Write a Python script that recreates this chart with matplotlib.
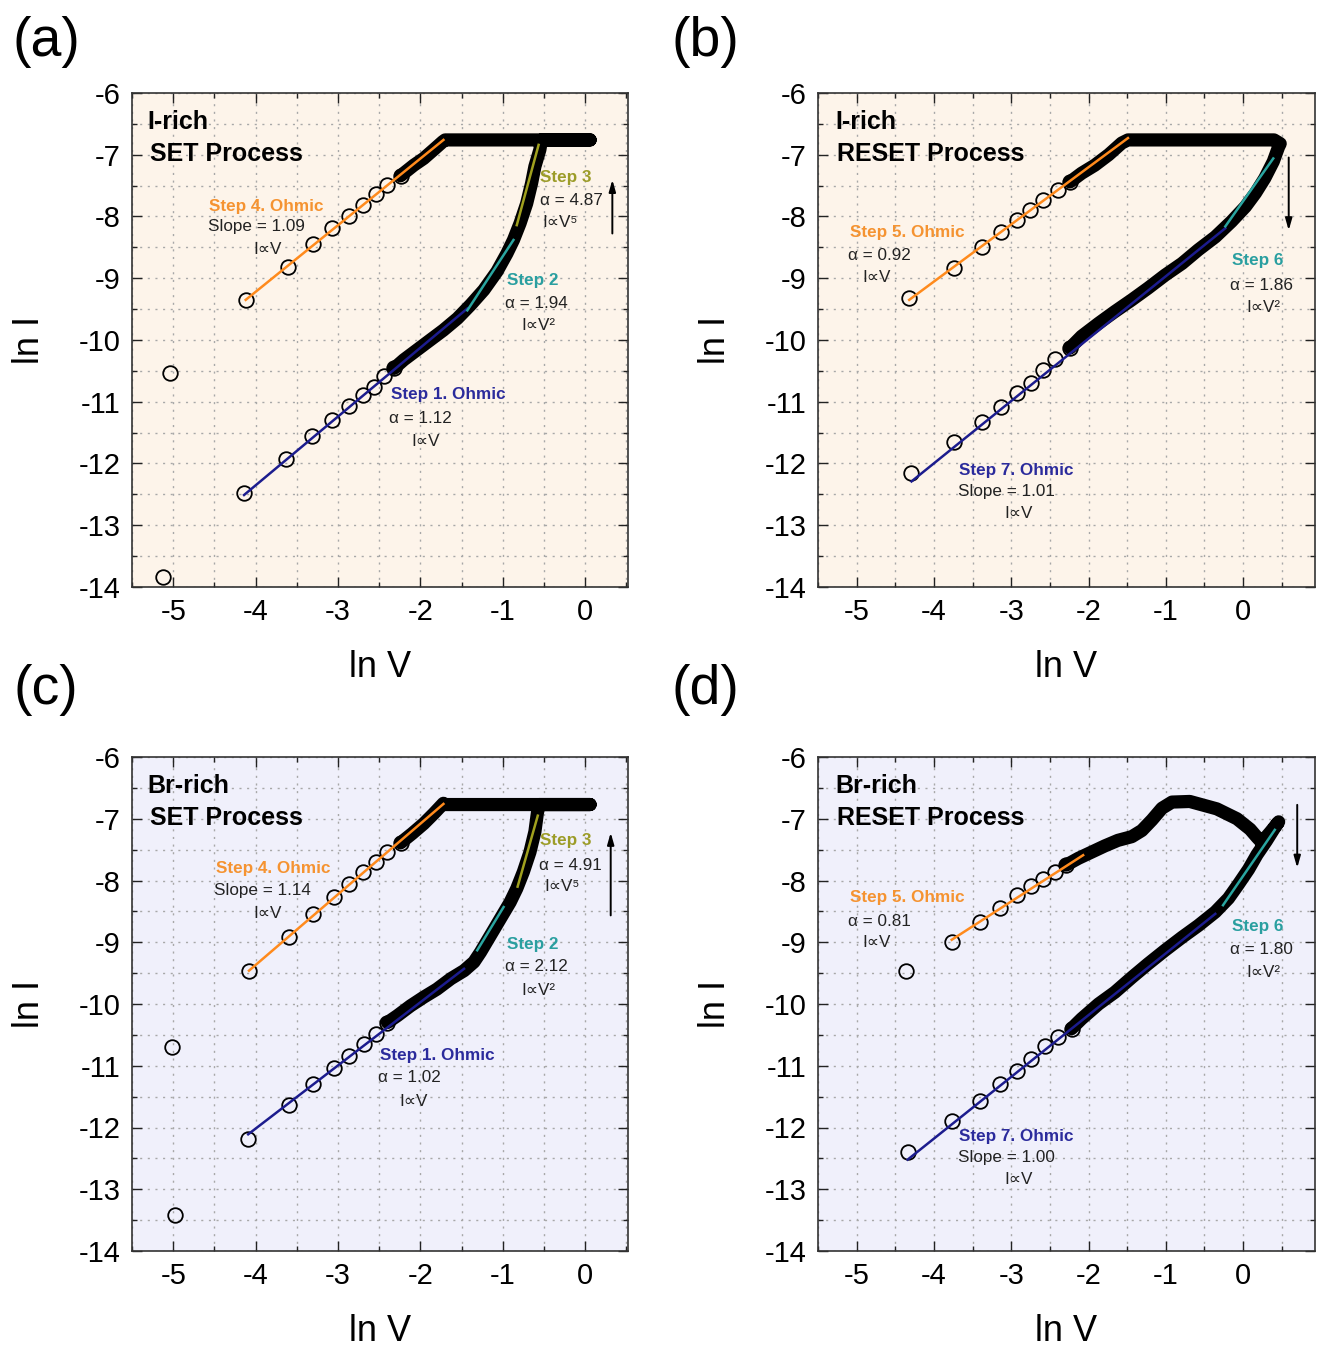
import matplotlib
matplotlib.use("Agg")
import matplotlib.pyplot as plt
from matplotlib.ticker import MultipleLocator

plt.rcParams['font.family'] = ['Liberation Sans', 'DejaVu Sans']
plt.rcParams['axes.unicode_minus'] = False

# ---------------- data (ln V, ln I) ----------------
# Panel (a): I-rich SET
a_up_x = [-4.12, -3.61, -3.30, -3.07, -2.87, -2.70, -2.54, -2.40, -2.24]
a_up_y = [-9.35, -8.81, -8.45, -8.18, -7.99, -7.81, -7.64, -7.49, -7.34]
a_lo_x = [-4.14, -3.63, -3.31, -3.07, -2.87, -2.70, -2.56, -2.44, -2.32]
a_lo_y = [-12.48, -11.92, -11.56, -11.30, -11.07, -10.89, -10.76, -10.59, -10.46]
a_out_x = [-5.04, -5.12]
a_out_y = [-10.54, -13.83]
a_band_x = [-2.32, -2.20, -2.04, -1.88, -1.72, -1.55, -1.39, -1.23, -1.07, -0.95, -0.87,
            -0.79, -0.71, -0.65, -0.61, -0.55, -0.53, 0.06, -1.70, -1.73, -1.84, -1.96, -2.08, -2.24]
a_band_y = [-10.46, -10.32, -10.16, -10.00, -9.84, -9.65, -9.43, -9.19, -8.89, -8.60, -8.38,
            -8.11, -7.79, -7.46, -7.19, -6.92, -6.76, -6.76, -6.76, -6.79, -6.92, -7.06, -7.17, -7.34]
a_fit_orange = ([-4.12, -1.72], [-9.35, -6.76])
a_fit_blue = ([-4.14, -1.43], [-12.51, -9.49])
a_fit_teal = ([-1.43, -0.87], [-9.52, -8.38])
a_fit_olive = ([-0.83, -0.565], [-8.14, -6.84])
a_arrow = (0.33, -8.32, -7.36)

# Panel (b): I-rich RESET
b_up_x = [-4.32, -3.74, -3.38, -3.13, -2.93, -2.76, -2.59, -2.39, -2.24]
b_up_y = [-9.32, -8.84, -8.49, -8.25, -8.06, -7.89, -7.73, -7.57, -7.44]
b_lo_x = [-2.24, -2.44, -2.59, -2.74, -2.93, -3.13, -3.38, -3.74, -4.30]
b_lo_y = [-10.13, -10.30, -10.49, -10.70, -10.86, -11.08, -11.32, -11.65, -12.16]
b_band_x = [-2.24, -2.09, -1.92, -1.74, -1.57, -1.49, 0.40, 0.48, 0.46, 0.39, 0.28, 0.16, 0.03,
            -0.15, -0.36, -0.58, -0.79, -1.01, -1.23, -1.44, -1.66, -1.87, -2.09, -2.24]
b_band_y = [-7.44, -7.30, -7.17, -7.00, -6.81, -6.76, -6.76, -6.82, -6.87, -7.11, -7.38, -7.62, -7.84,
            -8.08, -8.33, -8.54, -8.76, -8.95, -9.16, -9.35, -9.54, -9.73, -9.94, -10.13]
b_fit_orange = ([-4.32, -1.49], [-9.35, -6.73])
b_fit_blue = ([-4.29, -0.23], [-12.29, -8.19])
b_fit_teal = ([-0.23, 0.39], [-8.16, -7.06])
b_arrow = (0.59, -7.00, -8.27)

# Panel (c): Br-rich SET
c_up_x = [-4.08, -3.60, -3.30, -3.05, -2.87, -2.70, -2.54, -2.40, -2.24]
c_up_y = [-9.47, -8.92, -8.54, -8.27, -8.05, -7.86, -7.70, -7.54, -7.39]
c_lo_x = [-4.09, -3.60, -3.30, -3.05, -2.87, -2.68, -2.54, -2.40]
c_lo_y = [-12.19, -11.64, -11.30, -11.03, -10.84, -10.65, -10.49, -10.30]
c_out_x = [-5.02, -4.98]
c_out_y = [-10.70, -13.42]
c_band_x = [-2.40, -2.28, -2.12, -1.96, -1.80, -1.63, -1.47, -1.35, -1.27, -1.15, -1.03, -0.91,
            -0.83, -0.75, -0.67, -0.61, -0.58, -0.56, 0.06, -1.70, -1.72, -1.84, -1.96, -2.10, -2.24]
c_band_y = [-10.30, -10.19, -10.03, -9.89, -9.76, -9.59, -9.46, -9.32, -9.16, -8.89, -8.62, -8.35,
            -8.13, -7.86, -7.54, -7.21, -6.91, -6.77, -6.77, -6.77, -6.75, -6.92, -7.08, -7.24, -7.39]
c_fit_orange = ([-4.08, -1.72], [-9.46, -6.76])
c_fit_blue = ([-4.09, -1.47], [-12.11, -9.43])
c_fit_teal = ([-1.31, -0.99], [-9.13, -8.43])
c_fit_olive = ([-0.82, -0.575], [-8.10, -6.95])
c_arrow = (0.31, -8.61, -7.18)

# Panel (d): Br-rich RESET
d_up_x = [-3.77, -3.40, -3.14, -2.93, -2.74, -2.59, -2.43, -2.29]
d_up_y = [-8.99, -8.67, -8.45, -8.24, -8.09, -7.97, -7.86, -7.75]
d_lo_x = [-2.22, -2.39, -2.56, -2.74, -2.93, -3.14, -3.40, -3.77, -4.34]
d_lo_y = [-10.40, -10.54, -10.68, -10.89, -11.08, -11.30, -11.57, -11.89, -12.40]
d_out_x = [-4.36]
d_out_y = [-9.47]
d_band_x = [-2.29, -2.13, -1.96, -1.79, -1.62, -1.44, -1.31, -1.18, -1.05, -0.92, -0.69, -0.34,
            -0.08, 0.09, 0.18, 0.24, 0.35, 0.46, 0.40, 0.30, 0.18, 0.07, -0.06, -0.19, -0.36,
            -0.58, -0.79, -1.01, -1.23, -1.44, -1.66, -1.87, -2.09, -2.22]
d_band_y = [-7.75, -7.64, -7.54, -7.44, -7.35, -7.29, -7.19, -7.02, -6.83, -6.73, -6.72, -6.84,
            -7.00, -7.17, -7.30, -7.38, -7.22, -7.05, -7.16, -7.36, -7.58, -7.82, -8.06, -8.29, -8.51,
            -8.73, -8.92, -9.13, -9.35, -9.57, -9.81, -10.00, -10.24, -10.40]
d_fit_orange = ([-3.77, -2.07], [-8.96, -7.59])
d_fit_blue = ([-4.34, -0.36], [-12.52, -8.54])
d_fit_teal = ([-0.26, 0.41], [-8.40, -7.18])
d_arrow = (0.70, -6.73, -7.84)

x_ticks = [-5, -4, -3, -2, -1, 0]
y_ticks = [-14, -13, -12, -11, -10, -9, -8, -7, -6]

# ---------------- style ----------------
ORANGE = '#ff8a1c'
NAVY = '#1c1c8e'
TEAL = '#2aa5a0'
OLIVE = '#a0a01e'
T_ORANGE = '#f59331'
T_NAVY = '#2b2b9c'
T_TEAL = '#2a9fa0'
T_OLIVE = '#9c9c28'
T_DARK = '#222222'
BG_I = '#fdf4ea'
BG_BR = '#f0f0fb'

fig = plt.figure(figsize=(13.19, 13.5), dpi=100)

W, H = 1319.0, 1350.0
def axes_px(l, r, t, b):
    return fig.add_axes([l / W, 1 - b / H, (r - l) / W, (b - t) / H])

ax_a = axes_px(132, 628, 93, 587)
ax_b = axes_px(818, 1315, 93, 587)
ax_c = axes_px(132, 628, 757, 1251)
ax_d = axes_px(818, 1315, 757, 1251)

def setup(ax, bg, xmax, lbx):
    ax.set_facecolor(bg)
    ax.set_xlim(-5.5, xmax)
    ax.set_ylim(-14, -6)
    ax.set_xticks(x_ticks)
    ax.set_yticks(y_ticks)
    ax.xaxis.set_minor_locator(MultipleLocator(0.5))
    ax.yaxis.set_minor_locator(MultipleLocator(0.5))
    ax.tick_params(which='both', direction='in', top=True, right=True, width=1.0, color='#222222')
    ax.tick_params(which='major', length=7, labelsize=21, pad=8)
    ax.tick_params(which='minor', length=3.5)
    ax.grid(True, which='both', color='#a8a8a8', linestyle=(0, (1.5, 4)), linewidth=1.0)
    ax.set_axisbelow(True)
    for s in ax.spines.values():
        s.set_linewidth(1.2)
        s.set_color('#333333')
    ax.set_xlabel('ln V', fontsize=26, va='top')
    ax.set_ylabel('ln I', fontsize=26, va='bottom')
    ax.xaxis.set_label_coords(0.5, -0.128)
    ax.yaxis.set_label_coords(lbx, 0.5)

def band(ax, x, y):
    ax.plot(x, y, color='black', lw=9.5, solid_capstyle='round', solid_joinstyle='round', zorder=2)

def markers(ax, x, y):
    ax.plot(x, y, linestyle='none', marker='o', markersize=10.5, markerfacecolor='none',
            markeredgecolor='black', markeredgewidth=1.3, zorder=3)

def fit(ax, xy, color):
    ax.plot(xy[0], xy[1], color=color, lw=1.8, zorder=4)

def arrow(ax, a):
    x, y0, y1 = a
    ax.annotate('', xy=(x, y1), xytext=(x, y0),
                arrowprops=dict(arrowstyle='-|>,head_length=0.7,head_width=0.2', color='black', lw=1.4),
                zorder=5)

def txt(ax, x, y, s, color=T_DARK, bold=False, ha='left'):
    ax.text(x, y, s, color=color, fontsize=12.3, fontweight='bold' if bold else 'normal',
            ha=ha, va='center', zorder=6)

def title(ax, l1, l2, x0):
    ax.text(x0, 0.941, l1, transform=ax.transAxes, fontsize=18, fontweight='bold', va='center', ha='left')
    ax.text(x0 + 0.004, 0.877, l2, transform=ax.transAxes, fontsize=18, fontweight='bold', va='center', ha='left')

# ---- (a)
ax = ax_a
setup(ax, BG_I, 0.52, -0.172)
band(ax, a_band_x, a_band_y)
markers(ax, a_up_x, a_up_y)
markers(ax, a_lo_x, a_lo_y)
markers(ax, a_out_x, a_out_y)
fit(ax, a_fit_orange, ORANGE)
fit(ax, a_fit_blue, NAVY)
fit(ax, a_fit_teal, TEAL)
fit(ax, a_fit_olive, OLIVE)
arrow(ax, a_arrow)
title(ax, 'I-rich', 'SET Process', 0.032)
txt(ax, -4.56, -7.83, 'Step 4. Ohmic', T_ORANGE, True)
txt(ax, -4.58, -8.17, 'Slope = 1.09')
txt(ax, -3.85, -8.53, 'I\u221dV', ha='center')
txt(ax, -0.545, -7.37, 'Step 3', T_OLIVE, True)
txt(ax, -0.55, -7.74, '\u03b1 = 4.87')
txt(ax, -0.30, -8.10, 'I\u221dV\u2075', ha='center')
txt(ax, -0.95, -9.04, 'Step 2', T_TEAL, True)
txt(ax, -0.97, -9.41, '\u03b1 = 1.94')
txt(ax, -0.565, -9.76, 'I\u221dV\u00b2', ha='center')
txt(ax, -2.36, -10.89, 'Step 1. Ohmic', T_NAVY, True)
txt(ax, -2.38, -11.27, '\u03b1 = 1.12')
txt(ax, -1.94, -11.65, 'I\u221dV', ha='center')

# ---- (b)
ax = ax_b
setup(ax, BG_I, 0.93, -0.172)
band(ax, b_band_x, b_band_y)
markers(ax, b_up_x, b_up_y)
markers(ax, b_lo_x, b_lo_y)
fit(ax, b_fit_orange, ORANGE)
fit(ax, b_fit_blue, NAVY)
fit(ax, b_fit_teal, TEAL)
arrow(ax, b_arrow)
title(ax, 'I-rich', 'RESET Process', 0.034)
txt(ax, -5.09, -8.26, 'Step 5. Ohmic', T_ORANGE, True)
txt(ax, -5.11, -8.63, '\u03b1 = 0.92')
txt(ax, -4.74, -8.98, 'I\u221dV', ha='center')
txt(ax, -0.15, -8.72, 'Step 6', T_TEAL, True)
txt(ax, -0.17, -9.11, '\u03b1 = 1.86')
txt(ax, 0.26, -9.47, 'I\u221dV\u00b2', ha='center')
txt(ax, -3.67, -12.11, 'Step 7. Ohmic', T_NAVY, True)
txt(ax, -3.69, -12.46, 'Slope = 1.01')
txt(ax, -2.91, -12.81, 'I\u221dV', ha='center')

# ---- (c)
ax = ax_c
setup(ax, BG_BR, 0.52, -0.172)
band(ax, c_band_x, c_band_y)
markers(ax, c_up_x, c_up_y)
markers(ax, c_lo_x, c_lo_y)
markers(ax, c_out_x, c_out_y)
fit(ax, c_fit_orange, ORANGE)
fit(ax, c_fit_blue, NAVY)
fit(ax, c_fit_teal, TEAL)
fit(ax, c_fit_olive, OLIVE)
arrow(ax, c_arrow)
title(ax, 'Br-rich', 'SET Process', 0.032)
txt(ax, -4.48, -7.81, 'Step 4. Ohmic', T_ORANGE, True)
txt(ax, -4.50, -8.16, 'Slope = 1.14')
txt(ax, -3.85, -8.54, 'I\u221dV', ha='center')
txt(ax, -0.545, -7.36, 'Step 3', T_OLIVE, True)
txt(ax, -0.555, -7.75, '\u03b1 = 4.91')
txt(ax, -0.28, -8.09, 'I\u221dV\u2075', ha='center')
txt(ax, -0.95, -9.04, 'Step 2', T_TEAL, True)
txt(ax, -0.97, -9.40, '\u03b1 = 2.12')
txt(ax, -0.565, -9.78, 'I\u221dV\u00b2', ha='center')
txt(ax, -2.49, -10.83, 'Step 1. Ohmic', T_NAVY, True)
txt(ax, -2.51, -11.19, '\u03b1 = 1.02')
txt(ax, -2.08, -11.58, 'I\u221dV', ha='center')

# ---- (d)
ax = ax_d
setup(ax, BG_BR, 0.93, -0.172)
band(ax, d_band_x, d_band_y)
markers(ax, d_up_x, d_up_y)
markers(ax, d_lo_x, d_lo_y)
markers(ax, d_out_x, d_out_y)
fit(ax, d_fit_orange, ORANGE)
fit(ax, d_fit_blue, NAVY)
fit(ax, d_fit_teal, TEAL)
arrow(ax, d_arrow)
title(ax, 'Br-rich', 'RESET Process', 0.034)
txt(ax, -5.09, -8.28, 'Step 5. Ohmic', T_ORANGE, True)
txt(ax, -5.11, -8.66, '\u03b1 = 0.81')
txt(ax, -4.74, -9.01, 'I\u221dV', ha='center')
txt(ax, -0.14, -8.75, 'Step 6', T_TEAL, True)
txt(ax, -0.17, -9.12, '\u03b1 = 1.80')
txt(ax, 0.26, -9.49, 'I\u221dV\u00b2', ha='center')
txt(ax, -3.67, -12.14, 'Step 7. Ohmic', T_NAVY, True)
txt(ax, -3.69, -12.49, 'Slope = 1.00')
txt(ax, -2.91, -12.84, 'I\u221dV', ha='center')

# panel letters
for lab, (px, py) in zip(['(a)', '(b)', '(c)', '(d)'],
                         [(46, 42), (705, 42), (46, 690), (705, 690)]):
    fig.text(px / W, 1 - py / H, lab, fontsize=40, ha='center', va='center')

fig.savefig('out.png', dpi=100)
